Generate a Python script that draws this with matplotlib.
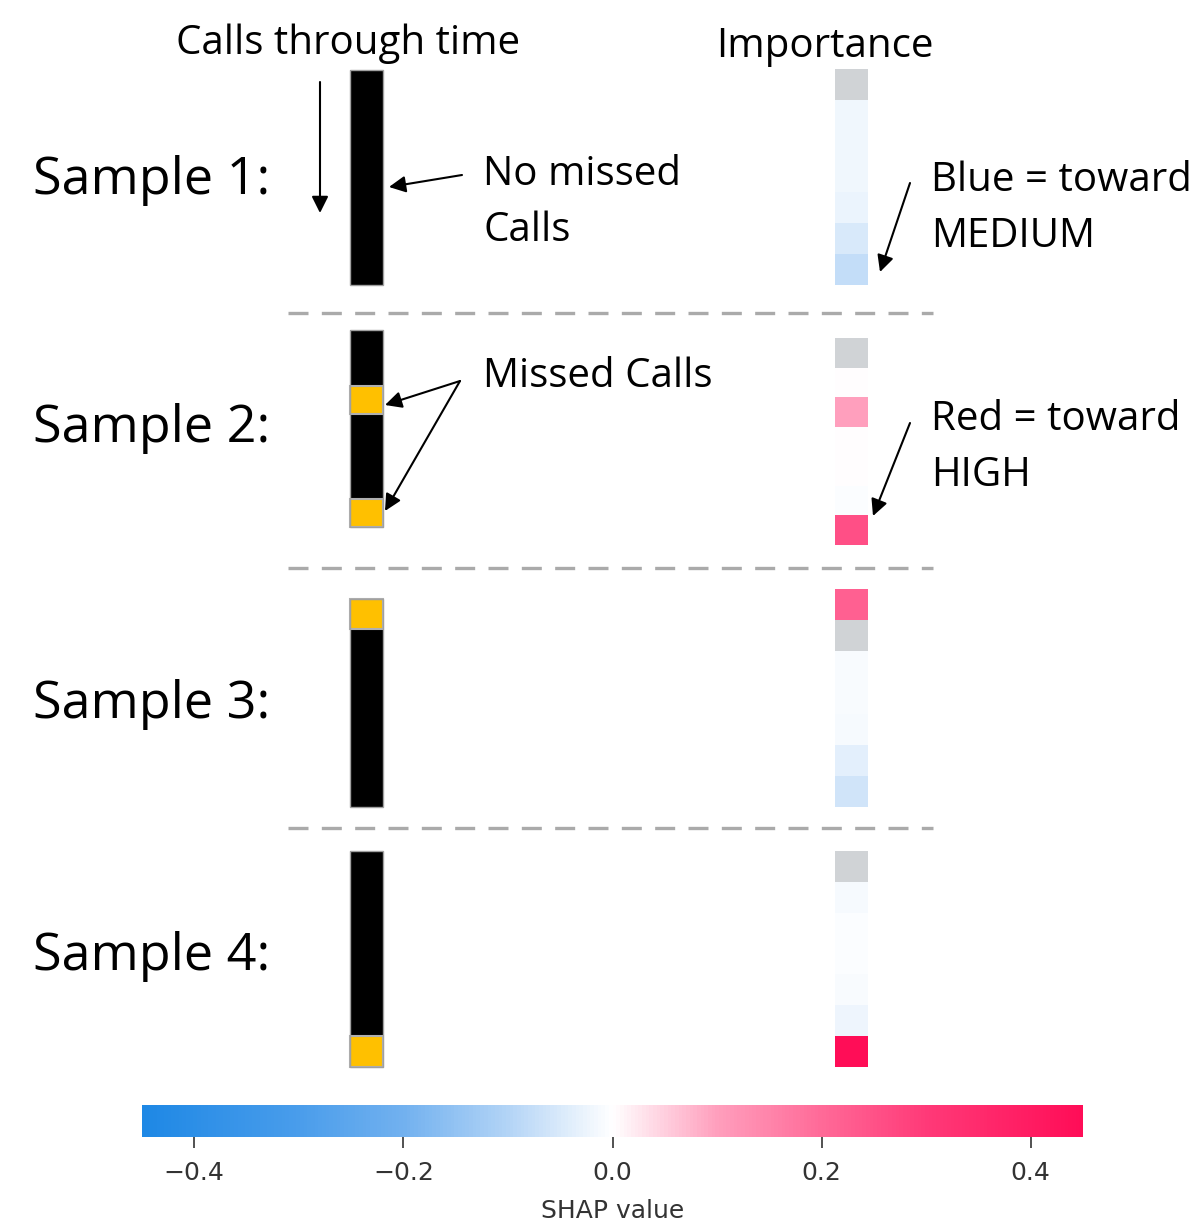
import matplotlib
matplotlib.use("Agg")
import matplotlib.pyplot as plt
from matplotlib.colors import LinearSegmentedColormap, Normalize
import matplotlib.cm as cm

# data: 7 time steps per sample
samples = ["Sample 1:", "Sample 2:", "Sample 3:", "Sample 4:"]
# 0 = call answered, 1 = missed call
calls_1 = [0, 0, 0, 0, 0, 0, 0]
calls_2 = [0, 0, 1, 0, 0, 0, 1]
calls_3 = [1, 0, 0, 0, 0, 0, 0]
calls_4 = [0, 0, 0, 0, 0, 0, 1]
# SHAP importance per step (None = static feature, drawn grey)
imp_1 = [None, -0.02, -0.02, -0.02, -0.028, -0.05, -0.08]
imp_2 = [None, 0.0, 0.10, 0.0, 0.0, -0.005, 0.255]
imp_3 = [0.22, None, -0.008, -0.01, -0.012, -0.038, -0.063]
imp_4 = [None, -0.013, -0.005, -0.005, -0.01, -0.022, 0.45]
cbar_ticks = [-0.4, -0.2, 0.0, 0.2, 0.4]

# colour scale anchors
cmap_vals = [-0.45, -0.3, -0.2, -0.1, 0.0, 0.1, 0.2, 0.3, 0.45]
cmap_cols = ["#1e88e5", "#4a9deb", "#72b1ef", "#b3d4f6", "#ffffff",
             "#ff9fbd", "#ff6a98", "#ff3a78", "#ff0d57"]

calls = [calls_1, calls_2, calls_3, calls_4]
imps = [imp_1, imp_2, imp_3, imp_4]

# layout (pixel coordinates of the figure)
W, H = 1201, 1224
call_x, imp_x, col_w = 366.5, 851, 33
call_spans = [(70, 285), (330, 527), (599, 807), (851, 1067)]
imp_spans = [(69, 285), (338, 545), (589, 807), (851, 1067)]
label_y = [181, 428, 704, 956]
sep_y = [313, 568, 828]

vmin, vmax = cmap_vals[0], cmap_vals[-1]
cmap = LinearSegmentedColormap.from_list(
    "shap", [((v - vmin) / (vmax - vmin), c) for v, c in zip(cmap_vals, cmap_cols)])
norm = Normalize(vmin, vmax)

font = ["Open Sans", "DejaVu Sans"]

fig = plt.figure(figsize=(W / 100, H / 100), dpi=100)
ax = fig.add_axes([0, 0, 1, 1])
ax.set_xlim(0, W)
ax.set_ylim(H, 0)
ax.axis("off")

for i in range(4):
    # calls column
    top, bot = call_spans[i]
    n = len(calls[i])
    h = (bot - top) / n
    for k, c in enumerate(calls[i]):
        if c:
            ax.bar(call_x, h, bottom=top + k * h, width=col_w, color="#ffc000",
                   edgecolor="#b0b0b0", linewidth=1.5, zorder=3)
        else:
            ax.bar(call_x, h, bottom=top + k * h, width=col_w, color="black",
                   linewidth=0, zorder=2)
    ax.bar(call_x, bot - top, bottom=top, width=col_w, color="none",
           edgecolor="#a0a0a0", linewidth=1, zorder=4)

    # importance column
    top, bot = imp_spans[i]
    n = len(imps[i])
    h = (bot - top) / n
    for k, v in enumerate(imps[i]):
        col = "#d0d3d6" if v is None else cmap(norm(v))
        ax.bar(imp_x, h, bottom=top + k * h, width=col_w, color=col, linewidth=0)

    ax.text(33, label_y[i], samples[i], fontsize=37.5, family=font,
            va="center", ha="left")

ax.hlines(sep_y, 288, 933, colors="#aaaaaa", linewidth=2.4, linestyles=(0, (6, 4)))

ax.text(348, 44, "Calls through time", fontsize=29, family=font, ha="center", va="center")
ax.text(825, 47, "Importance", fontsize=29, family=font, ha="center", va="center")
ax.text(483, 203, "No missed\nCalls", fontsize=29, family=font, ha="left", va="center",
        linespacing=1.52)
ax.text(483, 377, "Missed Calls", fontsize=29, family=font, ha="left", va="center")
ax.text(931, 209, "Blue = toward\nMEDIUM", fontsize=29, family=font, ha="left", va="center",
        linespacing=1.52)
ax.text(931, 448, "Red = toward\nHIGH", fontsize=29, family=font, ha="left", va="center",
        linespacing=1.52)

arrow = dict(arrowstyle="-|>", color="black", lw=1.5, mutation_scale=25, shrinkA=0, shrinkB=0)
ax.annotate("", xy=(320, 213), xytext=(320, 82), arrowprops=arrow)
ax.annotate("", xy=(389, 187), xytext=(462, 175), arrowprops=arrow)
ax.annotate("", xy=(385, 405), xytext=(460, 381), arrowprops=arrow)
ax.annotate("", xy=(385, 511), xytext=(460, 381), arrowprops=arrow)
ax.annotate("", xy=(880, 272), xytext=(910, 183), arrowprops=arrow)
ax.annotate("", xy=(873, 516), xytext=(910, 423), arrowprops=arrow)

# colorbar
cax = fig.add_axes([142 / W, 1 - 1137 / H, 941 / W, 32 / H])
sm = cm.ScalarMappable(norm=norm, cmap=cmap)
cb = fig.colorbar(sm, cax=cax, orientation="horizontal", ticks=cbar_ticks)
cb.outline.set_visible(False)
cb.ax.tick_params(labelsize=18, length=8, width=1.2, pad=9, colors="#333333")
cb.set_label("SHAP value", fontsize=18, color="#333333", labelpad=10)

fig.savefig("out.png", dpi=100)
